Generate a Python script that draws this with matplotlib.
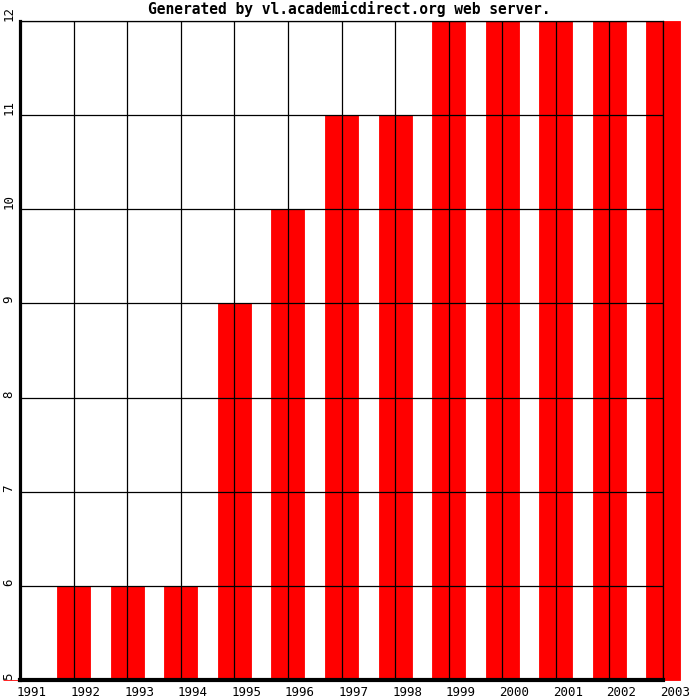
import matplotlib
matplotlib.use("Agg")
import matplotlib.pyplot as plt

years = ["1991", "1992", "1993", "1994", "1995", "1996", "1997",
         "1998", "1999", "2000", "2001", "2002", "2003"]
values = [5, 6, 6, 6, 9, 10, 11, 11, 12, 12, 12, 12, 12]
y_ticks = [5, 6, 7, 8, 9, 10, 11, 12]
title = "Generated by vl.academicdirect.org web server."

W, H = 700, 700
fig = plt.figure(figsize=(7, 7), dpi=100)
ax = fig.add_axes([20 / W, 20 / H, 643 / W, 659 / H])

x = list(range(len(years)))
base = y_ticks[0]
ax.bar(x, [v - base for v in values], bottom=base, width=0.616,
       color="#ff0000", edgecolor="#ff0000", linewidth=0.6,
       clip_on=False, zorder=1)

ax.set_xlim(0, len(years) - 1)
ax.set_ylim(y_ticks[0], y_ticks[-1])
ax.set_xticks(x)
ax.set_yticks(y_ticks)
ax.tick_params(length=0, labelbottom=False, labelleft=False)
ax.grid(True, color="black", linewidth=0.9)
ax.set_axisbelow("line")

for s in ["top", "right"]:
    ax.spines[s].set_linewidth(0.9)
ax.spines["left"].set_linewidth(2.3)
ax.spines["bottom"].set_linewidth(3.0)

font = "DejaVu Sans Mono"
xt = ax.get_xaxis_transform()
for i, lab in enumerate(years):
    ax.text(i - 3 / 53.6, -12 / 659, lab, transform=xt, ha="left",
            va="center", fontsize=9, family=font, clip_on=False)

yt = ax.get_yaxis_transform()
for v in y_ticks:
    ax.text(-11 / 643, v, str(v), transform=yt, ha="center", va="bottom",
            rotation=90, fontsize=9, family=font, clip_on=False)

fig.text(349 / W, 1 - 9 / H, title, ha="center", va="center",
         fontsize=10.5, family=font, fontweight="bold")

fig.savefig("out.png", dpi=100)
